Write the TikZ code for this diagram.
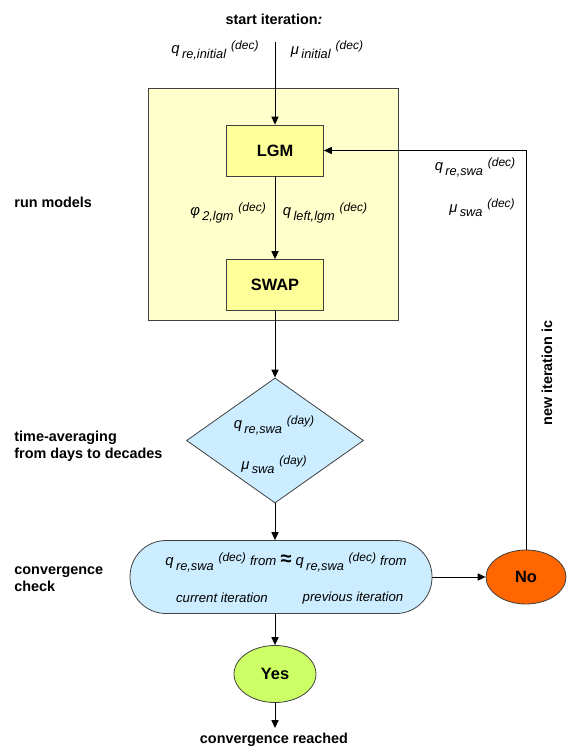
\documentclass[tikz,border=0pt]{standalone}
\usepackage{fontspec}
\setmainfont{Liberation Sans}
\usepackage{tikz}
\usetikzlibrary{positioning,arrows.meta,shapes.geometric}
\definecolor{runbg}{HTML}{FFFFCC}
\definecolor{modelbg}{HTML}{FFFF99}
\definecolor{checkbg}{HTML}{CCECFF}
\definecolor{nofill}{HTML}{FF6600}
\definecolor{yesfill}{HTML}{CCFF66}
\definecolor{frame}{HTML}{404040}

% variable with subscript and a trailing superscript
\newcommand{\vlab}[3]{\textit{#1}\hspace{1.2pt}\raisebox{-2.3pt}{\fontsize{6.4}{7}\selectfont\textit{#2}}\hspace{2.4pt}\raisebox{2.2pt}{\fontsize{6}{7}\selectfont\textit{#3}}}

\begin{document}
\begin{tikzpicture}[x=0.5pt, y=-0.5pt,
    model/.style={draw=frame, fill=modelbg, minimum width=48.5pt, minimum height=25.5pt, inner sep=0pt, font=\fontsize{8.2}{10}\selectfont\bfseries},
    stage/.style={font=\fontsize{7.2}{8.5}\selectfont\bfseries, align=left, inner sep=0pt, anchor=west},
    vname/.style={font=\fontsize{7.4}{8.6}\selectfont, inner sep=0pt},
    note/.style={font=\fontsize{6.6}{8}\selectfont\itshape, inner sep=0pt},
    answer/.style={ellipse, draw=frame, inner sep=0pt, font=\fontsize{8.2}{10}\selectfont\bfseries},
    arr/.style={-{Triangle[length=4pt,width=3.6pt]}, line width=0.5pt}
]
    \useasboundingbox (0,0) rectangle (566,747);

    % model run block
    \node[draw=frame, fill=runbg, minimum width=125pt, minimum height=116pt, inner sep=0pt] (runbox) at (273,204) {};
    \node[model] (lgm) at (275,150.5) {LGM};
    \node[model] (swap) at (275,285) {SWAP};

    % averaging and check
    \node[diamond, draw=frame, fill=checkbg, minimum width=88.5pt, minimum height=62.5pt, inner sep=0pt] (avg) at (275,440.5) {};
    \node[draw=frame, fill=checkbg, rounded corners=18pt, minimum width=151pt, minimum height=36.5pt] (check) at (281,577) {};
    \node[answer, fill=nofill, minimum width=40pt, minimum height=27pt] (no) at (526,577) {No};
    \node[answer, fill=yesfill, minimum width=41pt, minimum height=28.5pt] (yes) at (275,674) {Yes};

    \coordinate (start) at (275,42);
    \coordinate (done) at (275,728);

    % step labels
    \node[stage, anchor=center] (startlbl) at (274,19) {start iteration\textit{:}};
    \node[stage] (runlbl) at (14,202) {run models};
    \node[stage] (avglbl) at (14,446) {time-averaging\\from days to decades};
    \node[stage] (convlbl) at (14,579) {convergence\\check};
    \node[stage, anchor=center] (donelbl) at (274,740) {convergence reached};
    \node[stage, anchor=center, rotate=90] (newic) at (547,373) {new iteration ic};

    % variables
    \node[vname] (qinit) at (215,50) {\vlab{q}{re,initial}{(dec)}};
    \node[vname] (muinit) at (327,50) {\vlab{μ}{initial}{(dec)}};
    \node[vname] (philgm) at (228,213) {\vlab{φ}{2,lgm}{(dec)}};
    \node[vname] (qleft) at (325,213) {\vlab{q}{left,lgm}{(dec)}};
    \node[vname] (qswa) at (475,167) {\vlab{q}{re,swa}{(dec)}};
    \node[vname] (muswa) at (482,208) {\vlab{μ}{swa}{(dec)}};
    \node[vname] (qday) at (274,425) {\vlab{q}{re,swa}{(day)}};
    \node[vname] (muday) at (274,465) {\vlab{μ}{swa}{(day)}};
    \node[vname] (compare) at (286,562) {\vlab{q}{re,swa}{(dec)} {\fontsize{6.6}{7}\selectfont\textit{from}} {\fontsize{10}{10}\selectfont\textbf{≈}} \vlab{q}{re,swa}{(dec)} {\fontsize{6.6}{7}\selectfont\textit{from}}};
    \node[note] (curit) at (222,598) {current iteration};
    \node[note] (previt) at (353,598) {previous iteration};

    % Connections
    \draw[arr] (start) -- (lgm);
    \draw[arr] (lgm) -- (swap);
    \draw[arr] (swap) -- (avg);
    \draw[arr] (avg) -- (avg.south |- check.north);
    \draw[arr] (yes |- check.south) -- (yes);
    \draw[arr] (yes) -- (done);
    \draw[arr] (check) -- (no);
    \draw[arr] (no) |- (lgm);
\end{tikzpicture}
\end{document}
